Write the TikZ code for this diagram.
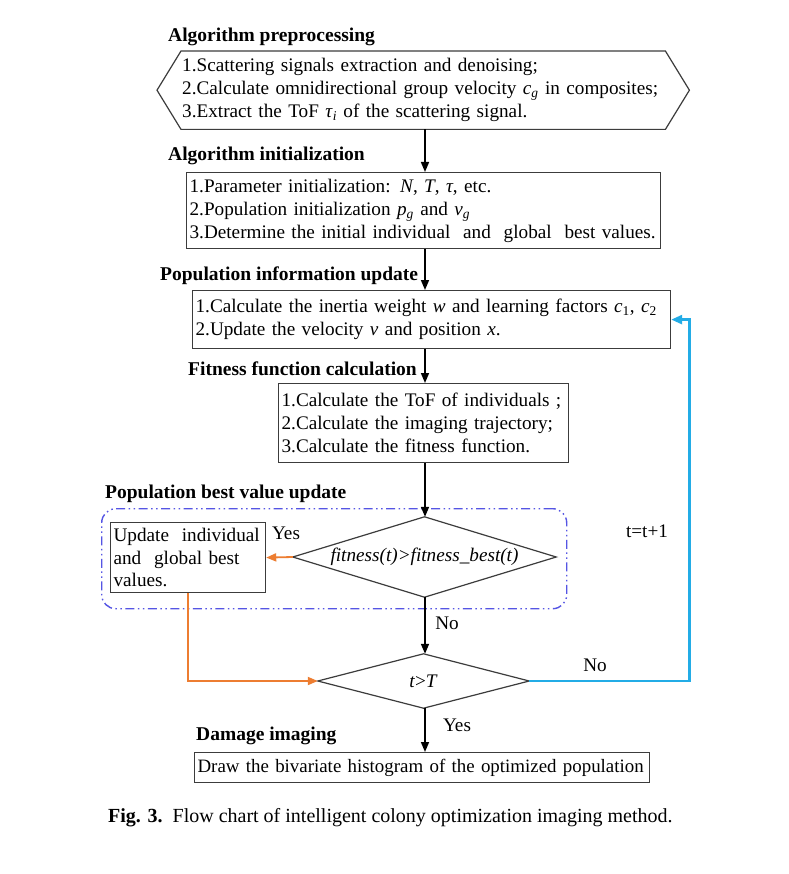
\documentclass[tikz,border=0pt]{standalone}
\usepackage{fontspec}
\setmainfont{Liberation Serif}
\usetikzlibrary{arrows.meta,calc}
\definecolor{boxgray}{RGB}{60,60,60}
\definecolor{dashblue}{RGB}{85,85,228}
\definecolor{loopblue}{RGB}{35,172,230}
\definecolor{myorange}{RGB}{237,125,49}
\newcommand{\oneline}[1]{\mbox{#1}}
\begin{document}
\begin{tikzpicture}[x=1pt,y=-1pt,
  every node/.style={font=\fontsize{19.2}{23}\selectfont},
  box/.style={draw=boxgray, line width=1.2pt, anchor=north west, align=left, inner xsep=3pt, inner ysep=0pt},
  head/.style={font=\fontsize{19.5}{23}\selectfont\bfseries, anchor=west, inner sep=0pt},
  lbl/.style={inner sep=0pt},
  arr/.style={line width=1.6pt, -{Triangle[length=10pt,width=8pt]}},
  oarr/.style={draw=myorange, line width=1.8pt, -{Triangle[length=10pt,width=8pt]}},
  barr/.style={draw=loopblue, line width=2.6pt, -{Triangle[length=11pt,width=9pt]}},
  dia/.style={draw=boxgray, line width=1.2pt},
]
\fill[white] (0,0) rectangle (788,874);
\useasboundingbox (0,0) rectangle (788,874);
\coordinate (sp) at (425,0);

% headings
\node[head] (h1) at (168,37) {Algorithm preprocessing};
\node[head] (h2) at (168,156) {Algorithm initialization};
\node[head] (h3) at (160,276) {Population information update};
\node[head] (h4) at (188,369) {Fitness function calculation};
\node[head] (h5) at (105,494) {Population best value update};
\node[head] (h6) at (196,736) {Damage imaging};

% preprocessing hexagon
\node[anchor=north west, align=left, inner xsep=1pt, inner ysep=0pt, minimum width=484, minimum height=78, text width=482] (pre) at (181,51)
 {\oneline{1.Scattering signals extraction and denoising;}\\
  \oneline{2.Calculate omnidirectional group velocity \textit{c}\textsubscript{\textit{g}} in composites;}\\
  \oneline{3.Extract the ToF \textit{τ}\textsubscript{\textit{i}} of the scattering signal.}};
\draw[dia] (pre.north west) -- (pre.north east) -- ($(pre.east)+(24,0)$) -- (pre.south east)
  -- (pre.south west) -- ($(pre.west)+(-24,0)$) -- cycle;

% initialization
\node[box, minimum width=474, minimum height=76, text width=468] (init) at (186,172)
 {\oneline{1.Parameter initialization: \textit{N}, \textit{T}, \textit{τ}, etc.}\\
  \oneline{2.Population initialization \textit{p}\textsubscript{\textit{g}} and \textit{v}\textsubscript{\textit{g}}}\\
  \oneline{3.Determine the initial individual\ \ and\ \ global\ \ best values.}};

% population update
\node[box, minimum width=478, minimum height=58, text width=472] (pop) at (192,290)
 {\oneline{1.Calculate the inertia weight \textit{w} and learning factors \textit{c}\textsubscript{1}, \textit{c}\textsubscript{2}}\\
  \oneline{2.Update the velocity \textit{v} and position \textit{x}.}};

% fitness
\node[box, minimum width=290, minimum height=79, text width=284] (fit) at (278,383)
 {\oneline{1.Calculate the ToF of individuals ;}\\
  \oneline{2.Calculate the imaging trajectory;}\\
  \oneline{3.Calculate the fitness function.}};

% group frame
\node[draw=dashblue, line width=1.4pt, rounded corners=14pt,
  dash pattern=on 9pt off 3.5pt on 1.5pt off 3.5pt on 1.5pt off 3.5pt,
  anchor=north west, minimum width=465, minimum height=100, inner sep=0pt] (grp) at (101,508) {};

% diamond 1
\node[inner sep=0pt, minimum width=263, minimum height=80] (d1) at (424.5,557)
 {\textit{fitness(t)>fitness\_best(t)}};
\draw[dia] (d1.north) -- (d1.east) -- (d1.south) -- (d1.west) -- cycle;

% update box
\node[box, minimum width=155, minimum height=70, text width=149, font=\fontsize{19.2}{22.5}\selectfont] (upd) at (110,522)
 {\oneline{Update\ \ individual}\\\oneline{and\ \ global best}\\values.};

% diamond 2
\node[inner sep=0pt, minimum width=211, minimum height=54] (d2) at (423.5,681)
 {\textit{t}>\textit{T}};
\draw[dia] (d2.north) -- (d2.east) -- (d2.south) -- (d2.west) -- cycle;

% final box
\node[box, minimum width=455, minimum height=30, text width=449, font=\fontsize{18.9}{23}\selectfont] (fin) at (194,752)
 {\oneline{Draw the bivariate histogram of the optimized population}};

% labels
\node[lbl] (yes1) at (286,533) {Yes};
\node[lbl] (no1) at (447,623) {No};
\node[lbl] (no2) at (595,665) {No};
\node[lbl] (tt) at (647,531) {t=t+1};
\node[lbl] (yes2) at (457,725) {Yes};

% main arrows
\draw[arr] (pre.south -| sp) -- (init.north -| sp);
\draw[arr] (init.south -| sp) -- (pop.north -| sp);
\draw[arr] (pop.south -| sp) -- (fit.north -| sp);
\draw[arr] (fit.south -| sp) -- (d1.north -| sp);
\draw[arr] (d1.south -| sp) -- (d2.north -| sp);
\draw[arr] (d2.south -| sp) -- (fin.north -| sp);

% orange
\draw[oarr] (d1.west) -- (upd.east);
\draw[oarr] (upd.south) |- (d2.west);

% blue loop
\draw[barr] (d2.east) -| ($(pop.east)+(18,0)$) -- (pop.east);

% caption
\node[anchor=west, inner sep=0pt, font=\fontsize{20}{24}\selectfont] (cap) at (108,818)
 {\textbf{Fig. 3.}\ \ Flow chart of intelligent colony optimization imaging method.};
\end{tikzpicture}
\end{document}
